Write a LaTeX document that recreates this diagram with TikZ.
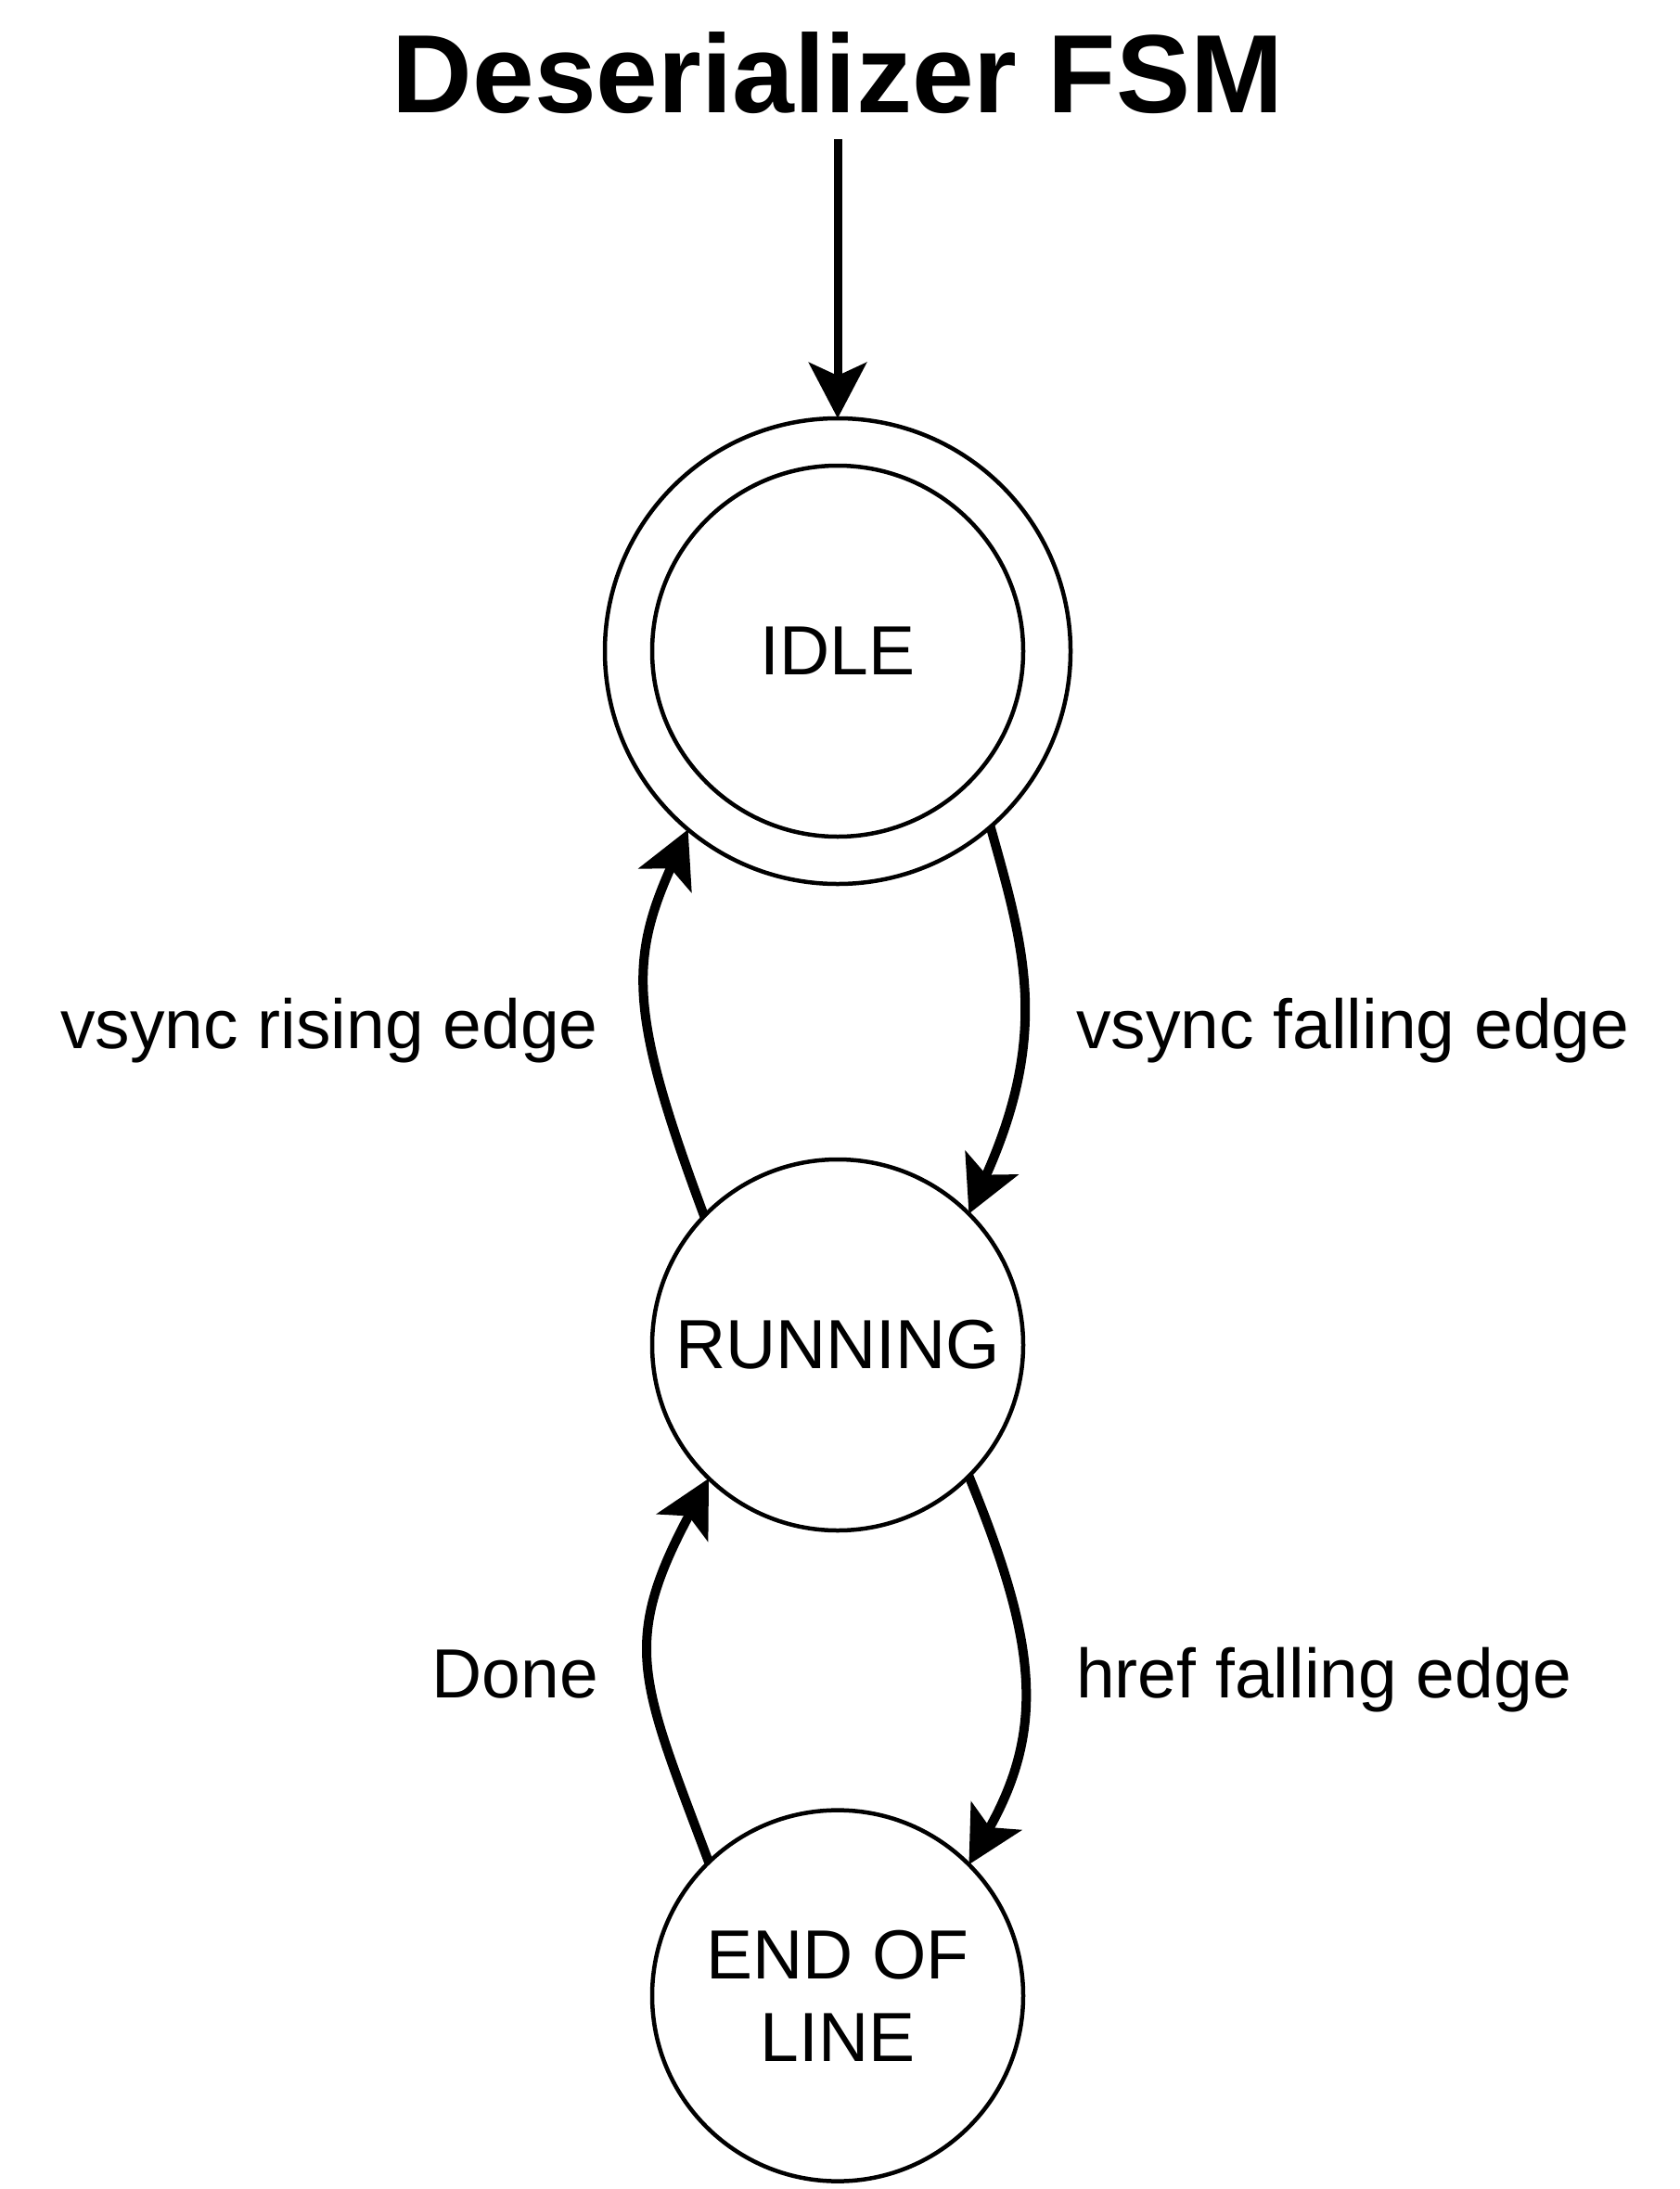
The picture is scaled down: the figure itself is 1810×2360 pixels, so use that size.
\documentclass[tikz,border=0pt]{standalone}
\usepackage{fontspec}
\setmainfont{Liberation Sans}
\usetikzlibrary{arrows.meta}
\begin{document}
\begin{tikzpicture}[x=1pt,y=-1pt,
  state/.style={circle,draw,line width=4.5pt,minimum size=400pt,inner sep=0pt,outer sep=0pt,font=\fontsize{75}{89}\selectfont,align=center},
  trans/.style={line width=10pt,-{Stealth[length=60pt,width=62pt,inset=14pt]}},
  initarrow/.style={line width=9pt,-{Stealth[length=60pt,width=62pt,inset=14pt]}},
  lbl/.style={inner sep=0pt,font=\fontsize{75}{89}\selectfont}]
\fill[white] (0,0) rectangle (1810,2360);
\useasboundingbox (0,0) rectangle (1810,2360);
\node[inner sep=0pt,anchor=base,font=\bfseries\fontsize{120}{132}\selectfont] (title) at (903,122) {Deserializer FSM};
\node[state,minimum size=502pt] (idle) at (903,702) {};
\node[state] (idlein) at (903,702) {IDLE};
\node[state] (run) at (903,1450) {RUNNING};
\node[state] (eol) at (903,2151.6) {END OF\\LINE};
\coordinate (init) at (903,150);
\draw[initarrow] (init) -- (idle.north);
\draw[trans] (run.136) .. controls +(-80,-215) and +(-64,142) .. (idle.230);
\draw[trans] (idle.311) .. controls +(36,129) and +(88,-196) .. (run.45);
\draw[trans] (eol.134) .. controls +(-73,-195) and +(-96,179) .. (run.226);
\draw[trans] (run.315) .. controls +(72,176) and +(84,-149) .. (eol.45);
\node[lbl,anchor=base east] (l1) at (645,1130) {vsync rising edge};
\node[lbl,anchor=base west] (l2) at (1160,1130) {vsync falling edge};
\node[lbl,anchor=base east] (l3) at (645,1830) {Done};
\node[lbl,anchor=base west] (l4) at (1160,1830) {href falling edge};
\end{tikzpicture}
\end{document}
